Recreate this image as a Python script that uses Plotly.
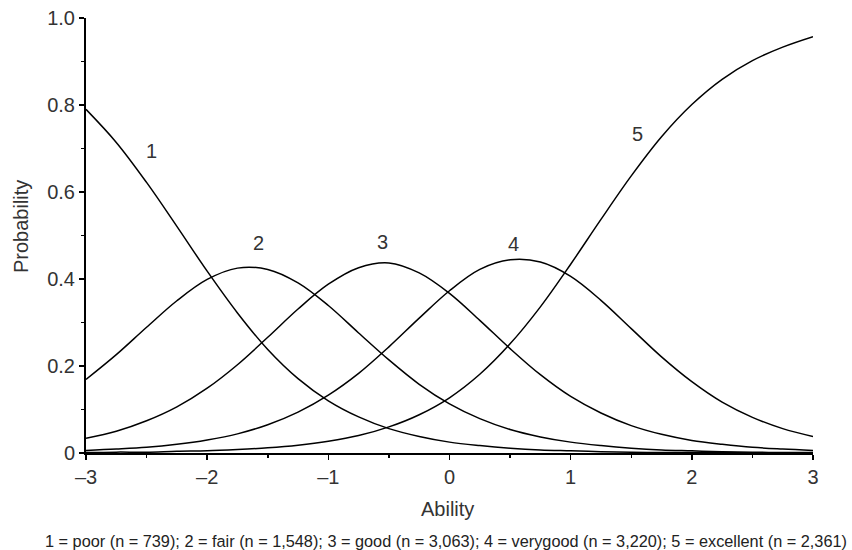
import plotly.graph_objects as go

ability = [-3.0, -2.75, -2.5, -2.25, -2.0, -1.75, -1.5, -1.25, -1.0, -0.75, -0.5, -0.25,
           0.0, 0.25, 0.5, 0.75, 1.0, 1.25, 1.5, 1.75, 2.0, 2.25, 2.5, 2.75, 3.0]

p_poor = [0.790, 0.714, 0.622, 0.521, 0.418, 0.322, 0.238, 0.171, 0.120, 0.083, 0.056, 0.038,
          0.025, 0.017, 0.011, 0.007, 0.005, 0.003, 0.002, 0.001, 0.001, 0.001, 0.000, 0.000, 0.000]
p_fair = [0.169, 0.226, 0.289, 0.350, 0.399, 0.425, 0.422, 0.391, 0.339, 0.276, 0.214, 0.158,
          0.113, 0.079, 0.054, 0.037, 0.025, 0.017, 0.011, 0.007, 0.005, 0.003, 0.002, 0.001, 0.001]
p_good = [0.034, 0.050, 0.074, 0.106, 0.149, 0.203, 0.266, 0.331, 0.388, 0.426, 0.437, 0.414,
          0.367, 0.305, 0.240, 0.180, 0.130, 0.092, 0.063, 0.043, 0.029, 0.020, 0.013, 0.009, 0.006]
p_verygood = [0.006, 0.009, 0.013, 0.020, 0.030, 0.044, 0.065, 0.094, 0.133, 0.183, 0.244, 0.310,
              0.373, 0.422, 0.444, 0.439, 0.406, 0.351, 0.286, 0.221, 0.164, 0.117, 0.082, 0.056, 0.038]
p_excellent = [0.001, 0.002, 0.002, 0.004, 0.005, 0.008, 0.012, 0.018, 0.027, 0.040, 0.060, 0.088,
               0.127, 0.181, 0.251, 0.336, 0.434, 0.537, 0.637, 0.727, 0.801, 0.859, 0.902, 0.933, 0.957]

series = [p_poor, p_fair, p_good, p_verygood, p_excellent]
curve_labels = ["1", "2", "3", "4", "5"]
label_x = [-2.457, -1.573, -0.552, 0.531, 1.552]
label_y = [0.695, 0.4835, 0.486, 0.4805, 0.7326]

x_tickvals = [-3, -2, -1, 0, 1, 2, 3]
x_ticktext = ["\u20133", "\u20132", "\u20131", "0", "1", "2", "3"]
y_tickvals = [0, 0.2, 0.4, 0.6, 0.8, 1.0]
y_ticktext = ["0", "0.2", "0.4", "0.6", "0.8", "1.0"]

caption = ("1 = poor (n = 739); 2 = fair (n = 1,548); 3 = good (n = 3,063); "
           "4 = verygood (n = 3,220); 5 = excellent (n = 2,361)")

FONT = "Liberation Sans, Arial, Helvetica, sans-serif"

fig = go.Figure()
for s in series:
    fig.add_trace(go.Scatter(x=ability, y=s, mode="lines", line=dict(color="black", width=1.5, shape="spline"),
                             showlegend=False, hoverinfo="skip"))

annotations = []
for t, lx, ly in zip(curve_labels, label_x, label_y):
    annotations.append(dict(x=lx, y=ly, xref="x", yref="y", text=t, showarrow=False,
                            font=dict(family=FONT, size=20, color="#333333"),
                            xanchor="center", yanchor="middle"))

annotations.append(dict(x=-0.0894, y=0.5195, xref="paper", yref="paper", text="Probability",
                        showarrow=False, textangle=-90, font=dict(family=FONT, size=20, color="#333333"),
                        xanchor="center", yanchor="middle"))
annotations.append(dict(x=0.4966, y=-0.128, xref="paper", yref="paper", text="Ability",
                        showarrow=False, font=dict(family=FONT, size=20, color="#333333"),
                        xanchor="center", yanchor="middle"))
annotations.append(dict(x=0.4945, y=-0.203, xref="paper", yref="paper", text=caption,
                        showarrow=False, font=dict(family=FONT, size=16.3, color="#222222"),
                        xanchor="center", yanchor="middle"))

fig.update_layout(
    template="none",
    width=852, height=550,
    margin=dict(l=86, r=39, t=18, b=97, autoexpand=False),
    paper_bgcolor="white", plot_bgcolor="white",
    font=dict(family=FONT, size=20, color="#333333"),
    annotations=annotations,
    hovermode=False,
    xaxis=dict(range=[-3, 3], tickvals=x_tickvals, ticktext=x_ticktext, showgrid=False, zeroline=False,
               automargin=False, ticklabeloverflow="allow", fixedrange=True,
               showline=True, linecolor="black", linewidth=2, ticks="outside", ticklen=5, tickwidth=1.5,
               tickcolor="black", tickfont=dict(family=FONT, size=20, color="#333333"),
               minor=dict(dtick=0.5, ticks="outside", ticklen=3, tickwidth=1.5, tickcolor="black", showgrid=False)),
    yaxis=dict(range=[0, 1], tickvals=y_tickvals, ticktext=y_ticktext, showgrid=False, zeroline=False,
               automargin=False, ticklabeloverflow="allow", fixedrange=True,
               showline=True, linecolor="black", linewidth=2, ticks="outside", ticklen=5, tickwidth=1.5,
               tickcolor="black", tickfont=dict(family=FONT, size=20, color="#333333"),
               minor=dict(dtick=0.1, ticks="outside", ticklen=3, tickwidth=1.5, tickcolor="black", showgrid=False)),
)

fig.write_html("out.html", config={"displayModeBar": False, "staticPlot": True},
               post_script="document.body.style.margin='0';")
